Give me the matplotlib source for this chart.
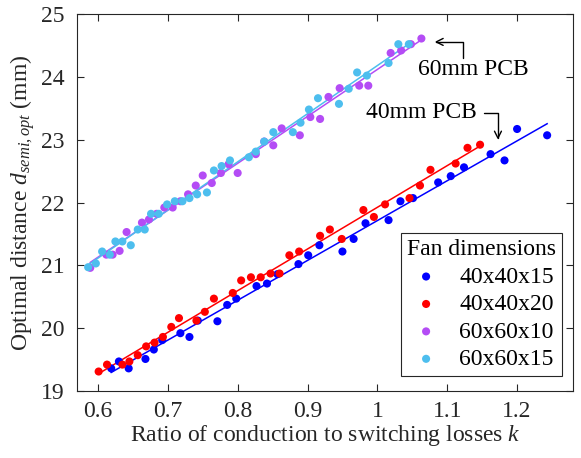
import matplotlib
matplotlib.use("Agg")
import matplotlib.pyplot as plt
import numpy as np

plt.rcParams['font.family'] = ['Liberation Serif', 'DejaVu Serif']
plt.rcParams['mathtext.fontset'] = 'custom'
plt.rcParams['mathtext.rm'] = 'Liberation Serif'
plt.rcParams['mathtext.it'] = 'Liberation Serif:italic'

# data: ratio k vs optimal distance (mm)
k_40x40x15 = [0.619, 0.630, 0.644, 0.668, 0.680, 0.692, 0.718, 0.731, 0.743, 0.771, 0.785,
              0.798, 0.827, 0.842, 0.857, 0.887, 0.901, 0.917, 0.950, 0.966, 0.983, 1.016,
              1.033, 1.051, 1.087, 1.105, 1.124, 1.162, 1.182, 1.200, 1.243]
d_40x40x15 = [19.36, 19.47, 19.36, 19.51, 19.66, 19.81, 19.92, 19.86, 20.12, 20.11, 20.37,
              20.47, 20.67, 20.71, 20.86, 21.02, 21.16, 21.32, 21.22, 21.42, 21.67, 21.72,
              22.02, 22.07, 22.32, 22.42, 22.56, 22.77, 22.67, 23.17, 23.07]

k_40x40x20 = [0.601, 0.613, 0.635, 0.645, 0.657, 0.669, 0.681, 0.693, 0.705, 0.716, 0.741,
              0.753, 0.766, 0.793, 0.805, 0.819, 0.833, 0.847, 0.860, 0.874, 0.888, 0.918,
              0.932, 0.949, 0.980, 0.995, 1.011, 1.046, 1.061, 1.076, 1.112, 1.129, 1.147]
d_40x40x20 = [19.31, 19.42, 19.42, 19.47, 19.57, 19.71, 19.77, 19.86, 20.02, 20.16, 20.12,
              20.26, 20.47, 20.56, 20.76, 20.81, 20.81, 20.87, 20.87, 21.16, 21.22, 21.47,
              21.57, 21.42, 21.88, 21.77, 21.97, 22.07, 22.27, 22.52, 22.62, 22.87, 22.92]

k_60x60x10 = [0.589, 0.612, 0.621, 0.631, 0.641, 0.663, 0.673, 0.684, 0.695, 0.707, 0.718,
              0.729, 0.740, 0.750, 0.763, 0.776, 0.787, 0.800, 0.826, 0.838, 0.851, 0.863,
              0.889, 0.904, 0.918, 0.930, 0.946, 0.974, 0.987, 1.019, 1.034, 1.048, 1.063]
d_60x60x10 = [20.96, 21.17, 21.17, 21.23, 21.53, 21.68, 21.73, 21.82, 21.92, 21.92, 22.02,
              22.13, 22.27, 22.43, 22.31, 22.47, 22.61, 22.47, 22.77, 22.97, 22.91, 23.18,
              23.07, 23.36, 23.33, 23.68, 23.82, 23.86, 23.86, 24.38, 24.42, 24.52, 24.61]

k_60x60x15 = [0.586, 0.597, 0.606, 0.617, 0.625, 0.635, 0.647, 0.657, 0.667, 0.676, 0.687,
              0.699, 0.710, 0.721, 0.731, 0.742, 0.756, 0.766, 0.777, 0.789, 0.816, 0.826,
              0.838, 0.851, 0.879, 0.890, 0.902, 0.915, 0.945, 0.959, 0.971, 0.985, 1.016,
              1.030, 1.045]
d_60x60x15 = [20.97, 21.03, 21.22, 21.17, 21.38, 21.38, 21.32, 21.57, 21.57, 21.82, 21.82,
              21.97, 22.02, 22.02, 22.07, 22.13, 22.16, 22.51, 22.58, 22.67, 22.72, 22.81,
              22.97, 23.12, 23.12, 23.27, 23.48, 23.66, 23.57, 23.81, 24.07, 24.02, 24.22,
              24.52, 24.52]

labels = ['40x40x15', '40x40x20', '60x60x10', '60x60x15']
colors = ['#0000ff', '#ff0000', '#b44cf5', '#4dbeee']
series = [(k_40x40x15, d_40x40x15), (k_40x40x20, d_40x40x20),
          (k_60x60x10, d_60x60x10), (k_60x60x15, d_60x60x15)]

fig = plt.figure(figsize=(5.81, 4.58), dpi=100)
ax = fig.add_axes([0.1325, 0.1463, 0.8537, 0.8231])

handles = []
for (k, d), lab, c in zip(series, labels, colors):
    k = np.array(k)
    d = np.array(d)
    p = np.polyfit(k, d, 1)                       # linear fit through each set
    kk = np.array([k.min(), k.max()])
    ax.plot(kk, np.polyval(p, kk), color=c, lw=1.1, zorder=2)
    h = ax.scatter(k, d, s=34, color=c, edgecolors='none', label=lab, zorder=3)
    handles.append(h)

ax.set_xlim(0.57, 1.28)
ax.set_ylim(19, 25)
ax.set_xticks([0.6, 0.7, 0.8, 0.9, 1.0, 1.1, 1.2])
ax.set_xticklabels(['0.6', '0.7', '0.8', '0.9', '1', '1.1', '1.2'])
ax.set_yticks([19, 20, 21, 22, 23, 24, 25])
ax.tick_params(direction='in', top=True, right=True, length=5, width=0.8,
               labelsize=17, colors='#262626')
ax.tick_params(axis='y', pad=9)
ax.tick_params(axis='x', pad=7)
for s in ax.spines.values():
    s.set_color('#262626')
    s.set_linewidth(0.8)

ax.set_xlabel('Ratio of conduction to switching losses $k$', fontsize=17, color='#262626', labelpad=1)
ax.set_ylabel('Optimal distance $d_{semi,opt}$ (mm)', fontsize=17, color='#262626', labelpad=3)

# annotations with elbow arrows
ax.annotate('', xy=(1.082, 24.556), xytext=(1.1225, 24.30),
            arrowprops=dict(arrowstyle='->,head_length=0.5,head_width=0.25', color='black', lw=1,
                            connectionstyle='angle,angleA=90,angleB=0,rad=0', shrinkA=0, shrinkB=0))
ax.text(1.058, 24.11, '60mm PCB', fontsize=17, ha='left', va='center')
ax.annotate('', xy=(1.1726, 23.0), xytext=(1.1526, 23.43),
            arrowprops=dict(arrowstyle='->,head_length=0.5,head_width=0.25', color='black', lw=1,
                            connectionstyle='angle,angleA=0,angleB=90,rad=0', shrinkA=0, shrinkB=0))
ax.text(1.142, 23.43, '40mm PCB', fontsize=17, ha='right', va='center')

leg = ax.legend(handles=handles, title='Fan dimensions', loc='lower right',
                bbox_to_anchor=(0.978, 0.04), borderaxespad=0, fontsize=17, title_fontsize=17,
                fancybox=False, framealpha=1, edgecolor='#262626', handletextpad=0.7,
                handlelength=1.4, labelspacing=0.25, borderpad=0.25, markerscale=1.0)
leg.get_frame().set_linewidth(0.8)

fig.savefig('out.png', dpi=100)
